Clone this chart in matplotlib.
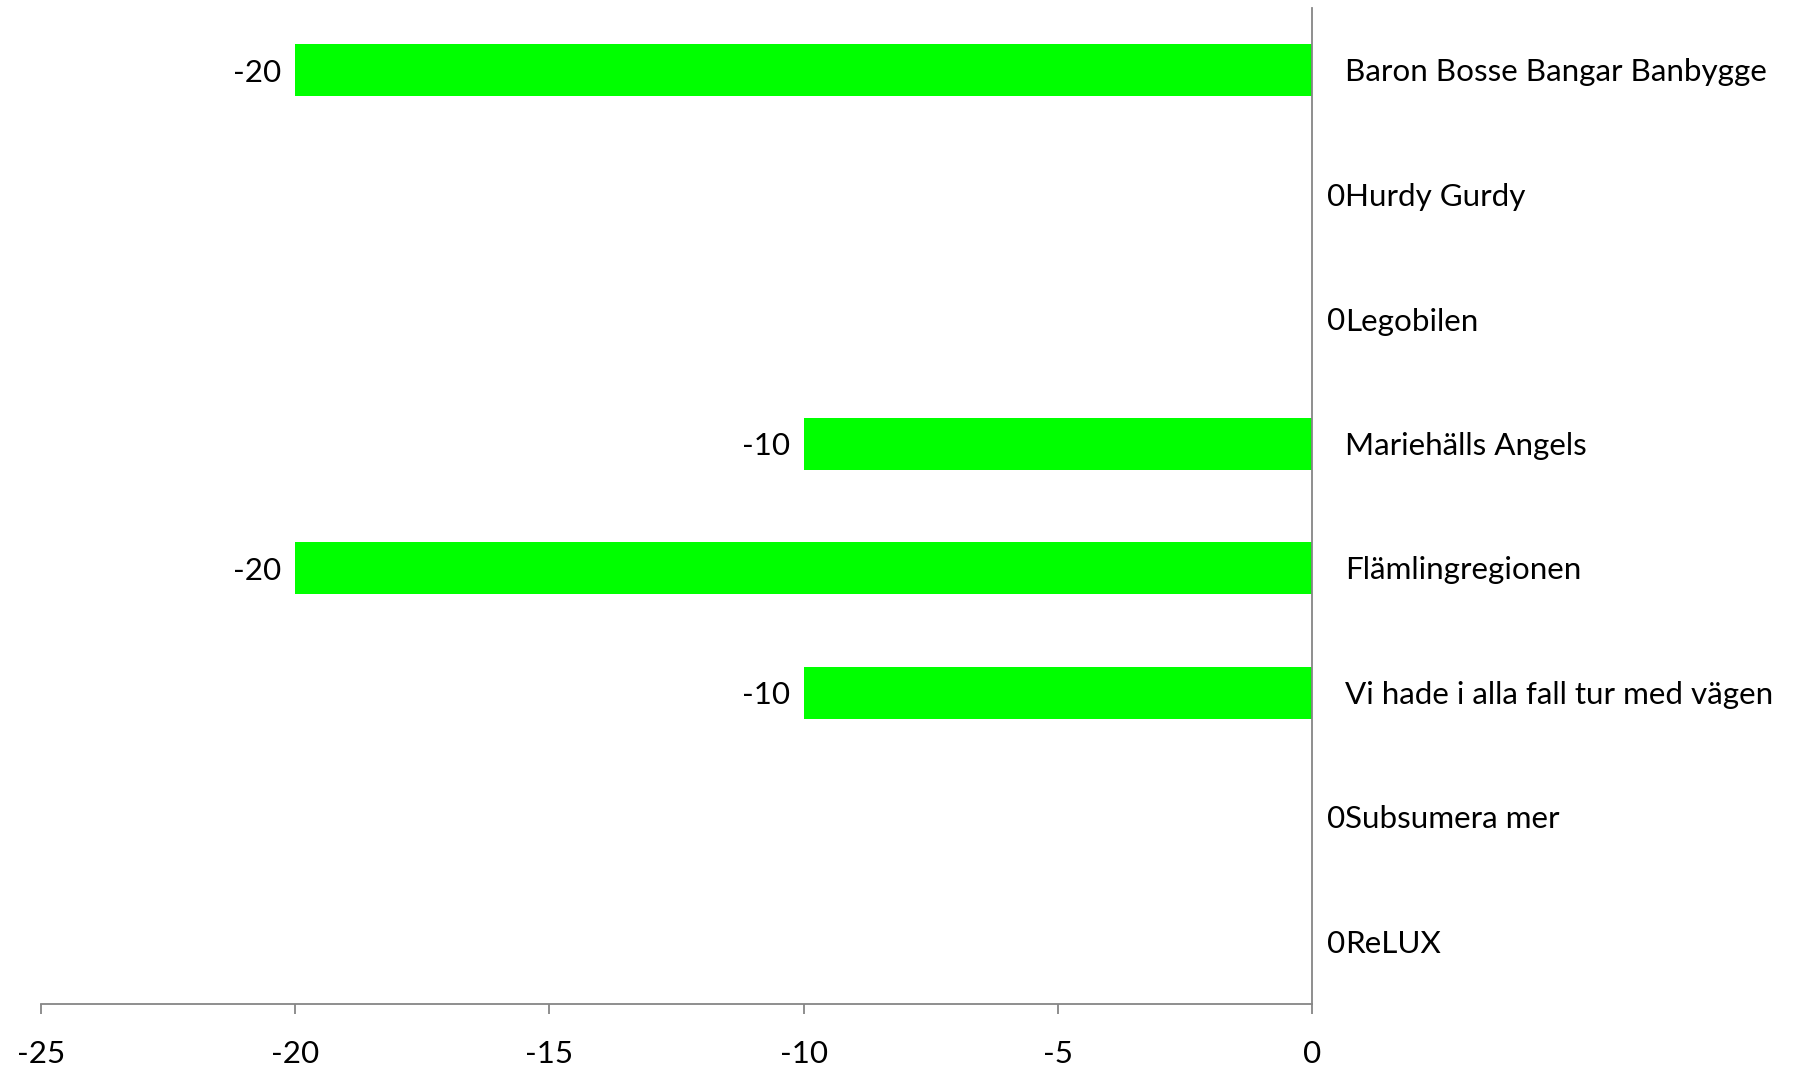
import numpy as np
import matplotlib.pyplot as plt

categories = ["Baron Bosse Bangar Banbygge", "Hurdy Gurdy", "Legobilen",
              "Mariehälls Angels", "Flämlingregionen",
              "Vi hade i alla fall tur med vägen", "Subsumera mer", "ReLUX"]
values = [-20, 0, 0, -10, -20, -10, 0, 0]
xticks = [-25, -20, -15, -10, -5, 0]

plt.rcParams['font.family'] = ['Lato', 'DejaVu Sans']
axis_gray = '#868686'
fs = 22.6
base = -8.1  # drop baseline so the cap height is centred on the bar

fig = plt.figure(figsize=(18.05, 10.69), dpi=100)
ax = fig.add_axes([41 / 1805, 65 / 1069, (1312 - 41) / 1805, (1004 - 8) / 1069])

y = np.arange(len(categories))
ax.barh(y, values, height=0.415, color='#00ff00')

ax.set_xlim(-25, 0)
ax.set_ylim(len(categories) - 0.5, -0.5)
ax.set_xticks(xticks)
ax.set_xticklabels([str(t) for t in xticks], fontsize=fs)
ax.set_yticks([])
ax.tick_params(axis='x', direction='out', length=7.5, width=1.3,
               color=axis_gray, pad=18.5)

for s in ['top', 'left']:
    ax.spines[s].set_visible(False)
for s in ['bottom', 'right']:
    ax.spines[s].set_color(axis_gray)
    ax.spines[s].set_linewidth(1.3)

for yi, v, name in zip(y, values, categories):
    if v < 0:
        ax.annotate(str(v), (v, yi), xytext=(-10, base), textcoords='offset points',
                    ha='right', va='baseline', fontsize=fs)
    else:
        ax.annotate(str(v), (0, yi), xytext=(11, base), textcoords='offset points',
                    ha='left', va='baseline', fontsize=fs)
    ax.annotate(name, (0, yi), xytext=(23.5, base), textcoords='offset points',
                ha='left', va='baseline', fontsize=fs, annotation_clip=False)

fig.savefig('out.png', dpi=100)
